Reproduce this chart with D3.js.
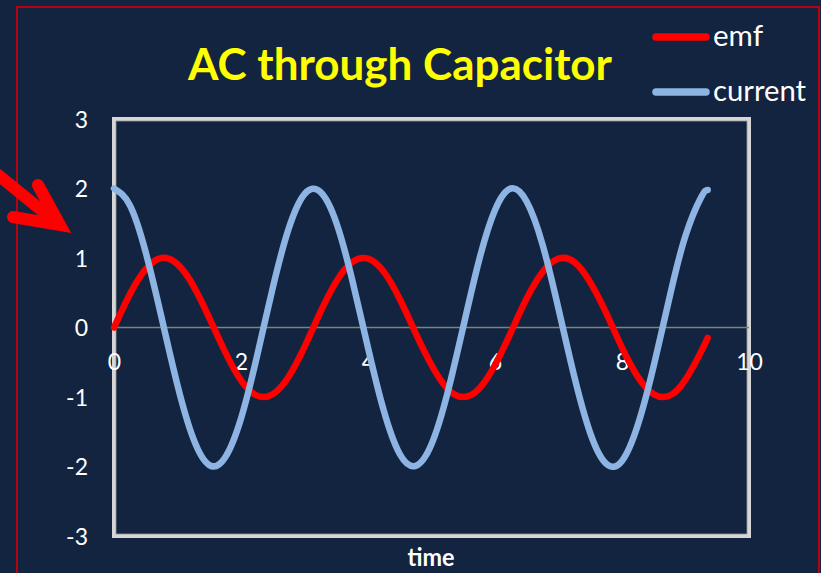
<!DOCTYPE html>
<html>
<head>
<meta charset="utf-8">
<script src="https://cdn.jsdelivr.net/npm/d3@7"></script>
<style>
  html, body { margin: 0; padding: 0; background: #12243f; }
  svg { display: block; }
</style>
</head>
<body>
<svg id="chart" width="821" height="573"></svg>
<script>
// ---- data ----
const time = [0, 0.25, 0.5, 0.75, 1, 1.25, 1.5, 1.75, 2, 2.25, 2.5, 2.75, 3, 3.25, 3.5, 3.75,
  4, 4.25, 4.5, 4.75, 5, 5.25, 5.5, 5.75, 6, 6.25, 6.5, 6.75, 7, 7.25, 7.5, 7.75,
  8, 8.25, 8.5, 8.75, 9, 9.25, 9.35];
const emf = [0, 0.48, 0.84, 1.0, 0.91, 0.60, 0.14, -0.35, -0.76, -0.98, -0.96, -0.71, -0.28, 0.22, 0.66, 0.94,
  0.99, 0.80, 0.41, -0.08, -0.54, -0.88, -1.0, -0.88, -0.54, -0.07, 0.42, 0.80, 0.99, 0.94, 0.65, 0.21,
  -0.29, -0.71, -0.96, -0.98, -0.75, -0.34, -0.15];
const current = [2.0, 1.76, 1.08, 0.14, -0.83, -1.60, -1.98, -1.87, -1.31, -0.42, 0.57, 1.42, 1.92, 1.95, 1.51, 0.69,
  -0.29, -1.20, -1.82, -1.99, -1.68, -0.95, 0.01, 0.97, 1.69, 2.0, 1.81, 1.19, 0.27, -0.71, -1.52, -1.96,
  -1.92, -1.40, -0.55, 0.44, 1.32, 1.88, 1.98];
const xTicks = [0, 2, 4, 6, 8, 10];
const yTicks = [-3, -2, -1, 0, 1, 2, 3];
const seriesNames = ["emf", "current"];
const titleText = "AC through Capacitor";
const xLabel = "time";

// ---- layout ----
const svg = d3.select("#chart");
const W = 821, H = 573;
const plot = { left: 114, right: 749, top: 119, bottom: 536 };
const colors = { emf: "#ff0000", current: "#8db4e2" };

svg.append("rect").attr("width", W).attr("height", H).attr("fill", "#12243f");

// red slide frame
svg.append("rect")
  .attr("x", 17).attr("y", 7).attr("width", 802).attr("height", 600)
  .attr("fill", "none").attr("stroke", "#c8000a").attr("stroke-width", 1.8);

const x = d3.scaleLinear().domain([0, 10]).range([plot.left, plot.right]);
const y = d3.scaleLinear().domain([-3, 3]).range([plot.bottom, plot.top]);

// plot border (bevelled light grey)
svg.append("rect")
  .attr("x", plot.left).attr("y", plot.top)
  .attr("width", plot.right - plot.left).attr("height", plot.bottom - plot.top)
  .attr("fill", "none").attr("stroke", "#d6d6d6").attr("stroke-width", 4);
svg.append("rect")
  .attr("x", plot.left + 2).attr("y", plot.top + 2)
  .attr("width", plot.right - plot.left - 4).attr("height", plot.bottom - plot.top - 4)
  .attr("fill", "none").attr("stroke", "#9a9a9a").attr("stroke-width", 0.8);

// zero line (horizontal axis)
svg.append("line")
  .attr("x1", x(0)).attr("x2", x(10)).attr("y1", y(0)).attr("y2", y(0))
  .attr("stroke", "#808080").attr("stroke-width", 1.6);

// y tick labels
const yAxis = d3.axisLeft(y).tickValues(yTicks).tickSize(0).tickPadding(0).tickFormat(d3.format("d"));
const yg = svg.append("g").attr("transform", `translate(${plot.left - 26},0)`).call(yAxis);
yg.select(".domain").remove();
yg.selectAll("text")
  .attr("fill", "#ffffff").attr("font-family", "Lato, 'Open Sans', sans-serif")
  .attr("font-size", 23).attr("dy", "0.36em").text(d => d < 0 ? "-" + Math.abs(d) : d);

// x tick labels (near zero line)
const xAxis = d3.axisBottom(x).tickValues(xTicks).tickSize(0).tickPadding(0).tickFormat(d3.format("d"));
const xg = svg.append("g").attr("transform", `translate(0,${y(0) + 42})`).call(xAxis);
xg.select(".domain").remove();
xg.selectAll("text")
  .attr("fill", "#ffffff").attr("font-family", "Lato, 'Open Sans', sans-serif")
  .attr("font-size", 23).attr("dy", "0");

// series
const rows = time.map((t, i) => ({ t, emf: emf[i], current: current[i] }));
const line = key => d3.line().x(d => x(d.t)).y(d => y(d[key])).curve(d3.curveNatural);

svg.append("path").datum(rows)
  .attr("d", line("emf")).attr("fill", "none")
  .attr("stroke", colors.emf).attr("stroke-width", 6.5).attr("stroke-linecap", "round");
svg.append("path").datum(rows)
  .attr("d", line("current")).attr("fill", "none")
  .attr("stroke", colors.current).attr("stroke-width", 6.5).attr("stroke-linecap", "round");

// title
svg.append("text")
  .attr("x", 400).attr("y", 80).attr("text-anchor", "middle")
  .attr("fill", "#ffff00").attr("font-family", "Lato, sans-serif").attr("font-weight", "bold")
  .attr("font-size", 43).attr("textLength", 424).attr("lengthAdjust", "spacingAndGlyphs")
  .text(titleText);

// x axis title
svg.append("text")
  .attr("x", 431).attr("y", 566).attr("text-anchor", "middle")
  .attr("fill", "#ffffff").attr("font-family", "Lato, sans-serif").attr("font-weight", "bold")
  .attr("font-size", 25).attr("textLength", 47).attr("lengthAdjust", "spacingAndGlyphs")
  .text(xLabel);

// legend
const legendY = { emf: 37, current: 92 };
const legendW = { emf: 50, current: 93 };
seriesNames.forEach(name => {
  svg.append("line")
    .attr("x1", 656).attr("x2", 706).attr("y1", legendY[name]).attr("y2", legendY[name])
    .attr("stroke", colors[name]).attr("stroke-width", 7.5).attr("stroke-linecap", "round");
  svg.append("text")
    .attr("x", 713).attr("y", legendY[name] + 9)
    .attr("fill", "#ffffff").attr("font-family", "Lato, sans-serif")
    .attr("font-size", 29).attr("textLength", legendW[name]).attr("lengthAdjust", "spacingAndGlyphs")
    .text(name);
});

// red pointing arrow on the left
const arrow = svg.append("g").attr("stroke", "#ff0000").attr("fill", "none")
  .attr("stroke-linecap", "round").attr("stroke-linejoin", "miter").attr("stroke-miterlimit", 10);
arrow.append("line").attr("x1", -30).attr("y1", 152).attr("x2", 56).attr("y2", 222).attr("stroke-width", 12);
arrow.append("path").attr("d", "M38,185 L60,225 L13,217").attr("stroke-width", 12);
</script>
</body>
</html>
